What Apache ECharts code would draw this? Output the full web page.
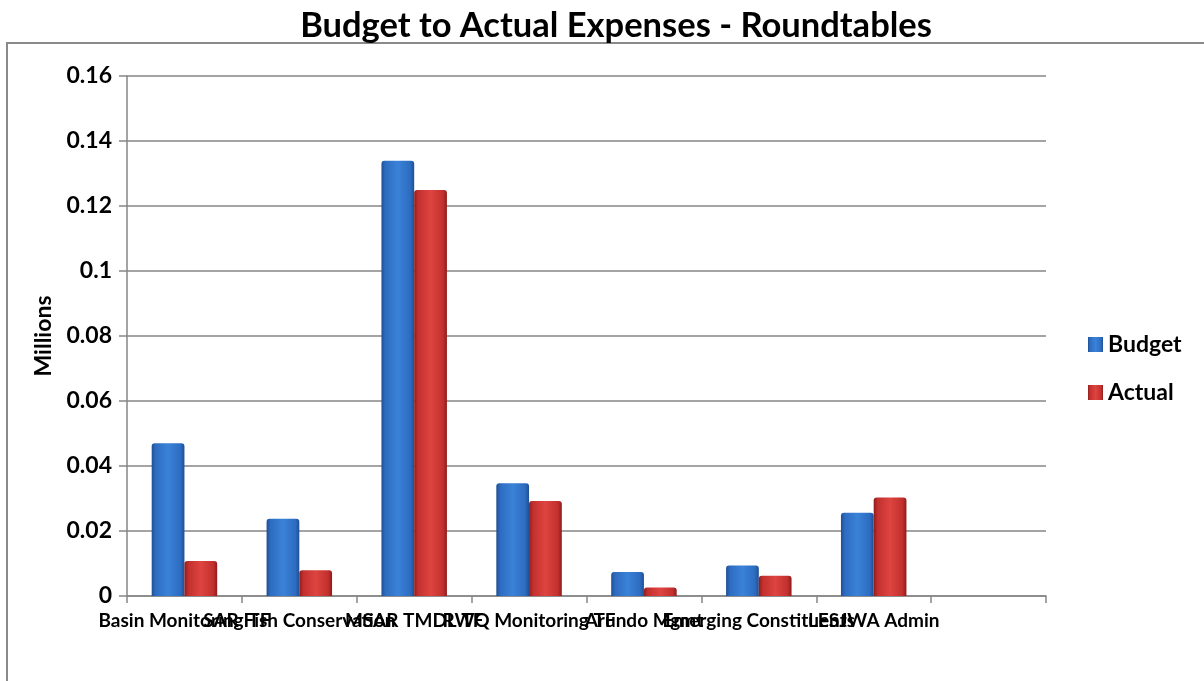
<!DOCTYPE html>
<html>
<head>
<meta charset="utf-8">
<title>Budget to Actual Expenses - Roundtables</title>
<script src="https://cdn.jsdelivr.net/npm/echarts@6/dist/echarts.min.js"></script>
<style>
  html, body { margin: 0; padding: 0; background: #ffffff; }
  #chart { width: 1204px; height: 681px; }
</style>
</head>
<body>
<div id="chart"></div>
<script>
// Roundtable categories (the last slot is left empty, as in the workbook chart)
const categories = [
  'Basin Monitoring TF',
  'SAR Fish Conservation',
  'MSAR TMDL TF',
  'RWQ Monitoring TF',
  'Arundo Mgmt',
  'Emerging Constituents',
  'LESJWA Admin',
  ''
];

// Expenses in millions of dollars
const budget = [0.0470, 0.0238, 0.1339, 0.0347, 0.0074, 0.0094, 0.0256, null];
const actual = [0.0108, 0.0079, 0.1249, 0.0292, 0.0026, 0.0062, 0.0303, null];

const yTicks = { min: 0, max: 0.16, interval: 0.02 };

const FONT = 'Lato, "Liberation Sans", sans-serif';
const GRID_GREY = '#868686';

// Bevelled bar fill: darker edges, brighter middle
function bevel(edge, mid, light) {
  return new echarts.graphic.LinearGradient(0, 0, 1, 0, [
    { offset: 0, color: edge },
    { offset: 0.12, color: mid },
    { offset: 0.5, color: light },
    { offset: 0.88, color: mid },
    { offset: 1, color: edge }
  ]);
}

const blueFill = bevel('#1f4f94', '#2d6cc0', '#3a82d8');
const redFill = bevel('#8e1c1c', '#c2302e', '#de4440');

const chart = echarts.init(document.getElementById('chart'), null, { renderer: 'canvas' });

chart.setOption({
  backgroundColor: '#ffffff',
  animation: false,
  title: {
    text: 'Budget to Actual Expenses - Roundtables',
    left: 611,
    textAlign: 'center',
    top: 3,
    textStyle: { fontFamily: FONT, fontWeight: 'bold', fontSize: 34.5, color: '#000000' }
  },
  graphic: [{
    type: 'rect',
    shape: { x: 7, y: 43, width: 1300, height: 700 },
    style: { fill: 'none', stroke: '#8a8a8a', lineWidth: 2 },
    silent: true,
    z: -10
  }],
  legend: {
    orient: 'vertical',
    left: 1083,
    top: 328,
    itemWidth: 15,
    itemHeight: 15,
    itemGap: 25,
    icon: 'rect',
    textStyle: { fontFamily: FONT, fontWeight: 'bold', fontSize: 23, color: '#000000' },
    data: ['Budget', 'Actual']
  },
  grid: { left: 127, right: 158, top: 76, bottom: 85, containLabel: false },
  xAxis: {
    type: 'category',
    data: categories,
    boundaryGap: true,
    axisLine: { lineStyle: { color: GRID_GREY, width: 1.5 } },
    axisTick: { show: true, length: 7, lineStyle: { color: GRID_GREY, width: 1.5 } },
    axisLabel: {
      interval: 0,
      margin: 15,
      fontFamily: FONT,
      fontWeight: 'bold',
      fontSize: 19,
      color: '#000000',
      hideOverlap: false
    },
    splitLine: { show: false }
  },
  yAxis: {
    type: 'value',
    min: yTicks.min,
    max: yTicks.max,
    interval: yTicks.interval,
    name: 'Millions',
    nameLocation: 'middle',
    nameGap: 72,
    nameRotate: 90,
    nameTextStyle: { fontFamily: FONT, fontWeight: 'bold', fontSize: 23, color: '#000000' },
    axisLine: { show: true, lineStyle: { color: GRID_GREY, width: 1.5 } },
    axisTick: { show: true, inside: false, length: 8, lineStyle: { color: GRID_GREY, width: 1.5 } },
    axisLabel: {
      margin: 15,
      fontFamily: FONT,
      fontWeight: 'bold',
      fontSize: 23,
      color: '#000000',
      formatter: v => String(parseFloat(v.toFixed(2)))
    },
    splitLine: { show: true, lineStyle: { color: GRID_GREY, width: 1.5 } }
  },
  series: [
    {
      name: 'Budget',
      type: 'bar',
      data: budget,
      barGap: '0%',
      barCategoryGap: '43%',
      itemStyle: { color: blueFill, borderRadius: [3, 3, 0, 0] }
    },
    {
      name: 'Actual',
      type: 'bar',
      data: actual,
      barGap: '0%',
      barCategoryGap: '43%',
      itemStyle: { color: redFill, borderRadius: [3, 3, 0, 0] }
    }
  ]
});
</script>
</body>
</html>
